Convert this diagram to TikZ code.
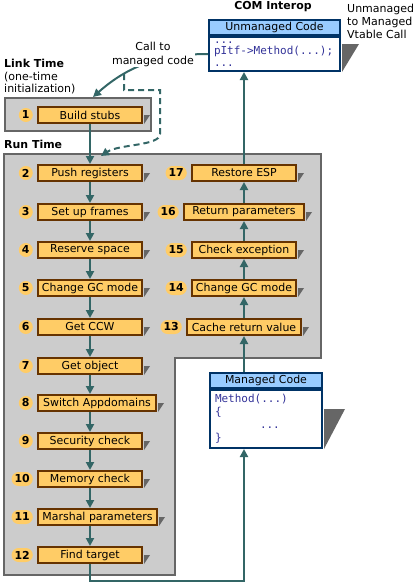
\documentclass[tikz,border=0pt,11pt]{standalone}
\usepackage{fontspec}
\setmainfont{DejaVu Sans}
\setmonofont{DejaVu Sans Mono}
\usetikzlibrary{arrows.meta, positioning}

\definecolor{panelgray}{HTML}{CCCCCC}
\definecolor{paneledge}{HTML}{666666}
\definecolor{stagefill}{HTML}{FFCC66}
\definecolor{stageedge}{HTML}{663300}
\definecolor{flowteal}{HTML}{336666}
\definecolor{headblue}{HTML}{99CCFF}
\definecolor{codeedge}{HTML}{003366}
\definecolor{codeink}{HTML}{333399}
\definecolor{shadowgray}{HTML}{666666}

\tikzset{
    panel/.style={fill=panelgray, draw=paneledge, line width=2pt},
    stagebox/.style={draw=stageedge, fill=stagefill, line width=2pt,
        minimum width=104, minimum height=16, inner sep=1pt},
    num/.style={fill=stagefill, rounded corners=7pt, font=\bfseries,
        minimum width=14, minimum height=14, inner xsep=3pt, inner ysep=0pt},
    flow/.style={draw=flowteal, line width=2pt, -{Triangle[length=8pt, width=8pt]}},
    dashflow/.style={flow, dash pattern=on 6pt off 4pt},
    codehead/.style={draw=codeedge, fill=headblue, line width=2pt,
        minimum height=15, inner sep=0pt},
    codebody/.style={draw=codeedge, fill=white, line width=2pt, align=left,
        text=codeink, inner xsep=5pt, inner ysep=0.5pt}
}

% small shadow wedge at the right of a stage box
\newcommand{\stageshadow}[1]{\fill[shadowgray] ([xshift=1pt]#1.east) -- ++(6,0) -- ([xshift=1pt]#1.south east) -- cycle;}

\begin{document}
\begin{tikzpicture}[x=1pt, y=-1pt]
    \useasboundingbox (0,0) rectangle (418,587);

    % panels
    \draw[panel] (4,154) -- (321,154) -- (321,358) -- (175,358) -- (175,575) -- (4,575) -- cycle;
    \node[panel, minimum width=146, minimum height=33, inner sep=0pt] (linkpanel) at (78,114.5) {};

    \node[anchor=west, align=left, inner sep=0pt, font=\fontsize{11}{12.5}\selectfont]
        (linklabel) at (4,77) {\textbf{Link Time}\\(one-time\\initialization)};
    \node[anchor=west, inner sep=0pt, font=\bfseries] (runlabel) at (4,144) {Run Time};
    \node[font=\bfseries, inner sep=0pt] (comlabel) at (273,7) {COM Interop};
    \node[anchor=west, align=left, inner sep=0pt, font=\fontsize{11}{13}\selectfont]
        (vtablelabel) at (347,21) {Unmanaged\\to Managed\\Vtable Call};

    % code boxes
    \node[codehead, minimum width=131, anchor=north west] (uhead) at (208,19) {Unmanaged Code};
    \node[codebody, text width=121, minimum height=34, below=0pt of uhead,
        font=\ttfamily\fontsize{11}{11.5}\selectfont] (ubody) {...\\pItf->Method(...);\\...};
    \fill[shadowgray] ([shift={(1pt,-8pt)}]ubody.north east) -- ++(17,0) -- ([xshift=1pt]ubody.south east) -- cycle;

    \node[codehead, minimum width=112, anchor=north west] (mhead) at (209,372) {Managed Code};
    \node[codebody, text width=102, minimum height=58, below=0pt of mhead,
        font=\ttfamily\fontsize{11}{13}\selectfont] (mbody) {Method(...)\\\{\\\hspace*{45pt}...\\\}};
    \fill[shadowgray] ([shift={(1pt,-20pt)}]mbody.north east) -- ++(21,0) -- ([xshift=1pt]mbody.south east) -- cycle;

    % link time
    \node[stagebox, anchor=west] (stubs) at (37,115) {Build stubs}; \stageshadow{stubs}
    \node[num, left=4pt of stubs] (n1) {1};

    % run time, way in
    \node[stagebox, anchor=west] (push) at (37,173) {Push registers}; \stageshadow{push}
    \node[stagebox, anchor=west] (frames) at (37,212) {Set up frames}; \stageshadow{frames}
    \node[stagebox, anchor=west] (reserve) at (37,250) {Reserve space}; \stageshadow{reserve}
    \node[stagebox, anchor=west] (gcin) at (37,288) {Change GC mode}; \stageshadow{gcin}
    \node[stagebox, anchor=west] (getccw) at (37,327) {Get CCW}; \stageshadow{getccw}
    \node[stagebox, anchor=west] (getobj) at (37,366) {Get object}; \stageshadow{getobj}
    \node[stagebox, anchor=west, minimum width=118] (appdom) at (37,403) {Switch Appdomains}; \stageshadow{appdom}
    \node[stagebox, anchor=west] (security) at (37,441) {Security check}; \stageshadow{security}
    \node[stagebox, anchor=west] (memory) at (37,479) {Memory check}; \stageshadow{memory}
    \node[stagebox, anchor=west, minimum width=119] (marshal) at (37,517) {Marshal parameters}; \stageshadow{marshal}
    \node[stagebox, anchor=west] (target) at (37,555) {Find target}; \stageshadow{target}

    \node[num, left=4pt of push] (n2) {2};
    \node[num, left=4pt of frames] (n3) {3};
    \node[num, left=4pt of reserve] (n4) {4};
    \node[num, left=4pt of gcin] (n5) {5};
    \node[num, left=4pt of getccw] (n6) {6};
    \node[num, left=4pt of getobj] (n7) {7};
    \node[num, left=4pt of appdom] (n8) {8};
    \node[num, left=4pt of security] (n9) {9};
    \node[num, left=4pt of memory] (n10) {10};
    \node[num, left=4pt of marshal] (n11) {11};
    \node[num, left=4pt of target] (n12) {12};

    % run time, way back
    \node[stagebox, minimum width=114] (cacheret) at (244,327) {Cache return value}; \stageshadow{cacheret}
    \node[stagebox] (gcout) at (244,288) {Change GC mode}; \stageshadow{gcout}
    \node[stagebox] (checkex) at (244,250) {Check exception}; \stageshadow{checkex}
    \node[stagebox, minimum width=120] (retparams) at (244,212) {Return parameters}; \stageshadow{retparams}
    \node[stagebox] (restore) at (244,173) {Restore ESP}; \stageshadow{restore}

    \node[num, left=4pt of cacheret] (n13) {13};
    \node[num, left=4pt of gcout] (n14) {14};
    \node[num, left=4pt of checkex] (n15) {15};
    \node[num, left=4pt of retparams] (n16) {16};
    \node[num, left=4pt of restore] (n17) {17};

    % call into the stubs
    \coordinate (runentry) at (101,156);
    \draw[flow] (ubody.west) .. controls (160,54) and (128,66) .. ([xshift=15pt]linkpanel.north)
        coordinate[pos=0.7] (split);
    \draw[dashflow] (split) |- ([shift={(8pt,7pt)}]linkpanel.north east)
        -- ([shift={(8pt,-2pt)}]linkpanel.south east) .. controls +(0,12) and +(18,-12) .. (runentry);
    \node[fill=white, align=center, inner sep=1pt, font=\fontsize{11}{14}\selectfont]
        (calllabel) at (153,54) {Call to\\managed code};

    % way in
    \draw[flow] (stubs.south) -- (push.north);
    \draw[flow] (push.south) -- (frames.north);
    \draw[flow] (frames.south) -- (reserve.north);
    \draw[flow] (reserve.south) -- (gcin.north);
    \draw[flow] (gcin.south) -- (getccw.north);
    \draw[flow] (getccw.south) -- (getobj.north);
    \draw[flow] (getobj.south) -- (getobj |- appdom.north);
    \draw[flow] (appdom.south -| getobj) -- (security.north);
    \draw[flow] (security.south) -- (memory.north);
    \draw[flow] (memory.south) -- (memory |- marshal.north);
    \draw[flow] (marshal.south -| memory) -- (target.north);
    \draw[flow] (target.south) -- ++(0,17) -| (mbody.south -| cacheret);

    % way back
    \draw[flow] (mhead.north -| cacheret) -- (cacheret.south);
    \draw[flow] (cacheret.north) -- (gcout.south);
    \draw[flow] (gcout.north) -- (checkex.south);
    \draw[flow] (checkex.north) -- (retparams.south);
    \draw[flow] (retparams.north) -- (restore.south);
    \draw[flow] (restore.north) -- (restore |- ubody.south);
\end{tikzpicture}
\end{document}
